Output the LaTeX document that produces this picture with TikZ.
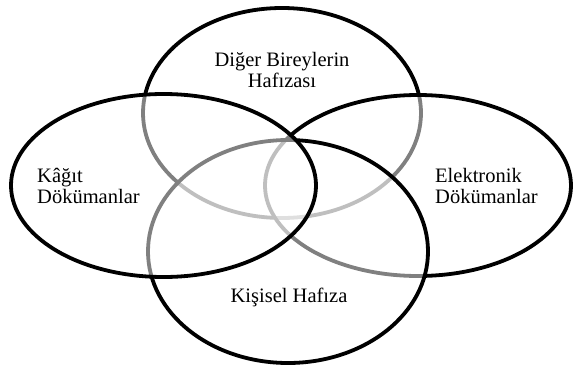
\documentclass[tikz,border=0pt]{standalone}
\usepackage{fontspec}
\setmainfont{Liberation Serif}
\tikzset{
  ring/.style={line width=3.8pt, draw=black, fill=white, fill opacity=0.5, draw opacity=1},
  lbl/.style={font=\fontsize{20.5}{21}\selectfont, inner sep=0pt, align=#1},
  lbl/.default=center
}
\begin{document}
\begin{tikzpicture}[x=1pt,y=-1pt]
\useasboundingbox (0,0) rectangle (574,367);
\path[ring] (282,113) ellipse [x radius=139pt, y radius=105pt];
\path[ring] (418,185.5) ellipse [x radius=153pt, y radius=90.5pt];
\path[ring] (288,251.5) ellipse [x radius=140pt, y radius=111.5pt];
\path[ring] (163.5,185.5) ellipse [x radius=152.5pt, y radius=91.5pt];
\node[lbl] (diger) at (282,70) {Diğer Bireylerin\\Hafızası};
\node[lbl=left, anchor=west] (kagit) at (37,186) {Kâğıt\\Dökümanlar};
\node[lbl=left, anchor=west] (elek) at (435,186) {Elektronik\\Dökümanlar};
\node[lbl] (kisisel) at (289,297) {Kişisel Hafıza};
\end{tikzpicture}
\end{document}
